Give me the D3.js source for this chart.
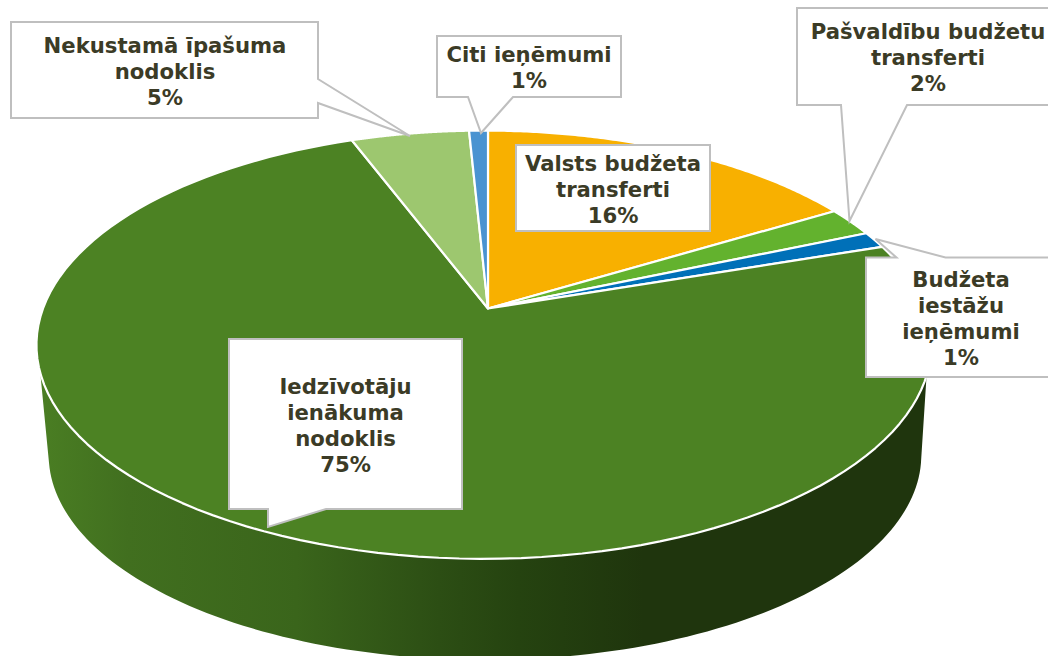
<!DOCTYPE html>
<html><head><meta charset="utf-8">
<script src="https://cdn.jsdelivr.net/npm/d3@7"></script>
<style>html,body{margin:0;padding:0;background:#fff;overflow:hidden}svg{display:block}</style>
</head><body><svg id="c" width="1048" height="656"></svg>
<script>
// Data
const categories = ["Valsts budžeta transferti","Pašvaldību budžetu transferti","Budžeta iestāžu ieņēmumi","Iedzīvotāju ienākuma nodoklis","Nekustamā īpašuma nodoklis","Citi ieņēmumi"];
const values = [16.45, 2.2, 1.25, 74.3, 5.0, 0.8];
const percentLabels = ["16%","2%","1%","75%","5%","1%"];
const labelLines = [["Valsts budžeta","transferti"],["Pašvaldību budžetu","transferti"],["Budžeta","iestāžu","ieņēmumi"],["Iedzīvotāju","ienākuma","nodoklis"],["Nekustamā īpašuma","nodoklis"],["Citi ieņēmumi"]];

// Styles and layout
const colors = ["#F8B000","#63B22E","#0070B8","#4C8223","#9DC76F","#4A93D1"];
const wallStops = [[0,"#4A7E23"],[0.1,"#416F1F"],[0.29,"#3A651B"],[0.45,"#2C4E14"],[0.54,"#254310"],[0.68,"#1F350D"],[1,"#1F350D"]];
const callouts = [
 {box:[516,145,710,231], ptr:null, cx:613, base:171},
 {box:[797,8,1060,105], ptr:[[907,105],[849.5,221],[841,105]], cx:928, base:38.5},
 {box:[866,257.5,1060,377], ptr:[[945.5,257.5],[875.5,239],[896.5,257.5]], cx:961, base:286.5},
 {box:[229,339,462,509], ptr:[[326,509],[268,527],[268,509]], cx:345.5, base:394},
 {box:[11,22,318,118], ptr:[[318,103],[410,136],[318,79]], side:"right", cx:165, base:52.5},
 {box:[437,36,621,97], ptr:[[513,97],[481,133],[468,97]], cx:529, base:62}
];
const lineStep = 26;

// Perspective view of the pie disc: top plane and bottom plane
const k = 0.169;
const topPlane = {x:488, y:308.5, a:208, b:441, m:0.009};
const botPlane = {x:485, y:420.5, a:199, b:430, m:0};
const project = (p, ang) => {
  const x = Math.sin(ang), y = -Math.cos(ang), d = 1 - k*y + p.m*x;
  return [p.x + p.b*x/d, p.y + p.a*y/d];
};
const rad = d3.scaleLinear().domain([0,180]).range([0,Math.PI]);
const arcPts = (p,a0,a1) => d3.range(0,121).map(i => project(p, a0+(a1-a0)*i/120));

const svg = d3.select("#c");
const line = d3.line();
const grad = svg.append("defs").append("linearGradient").attr("id","wall")
  .attr("gradientUnits","userSpaceOnUse").attr("x1",39).attr("x2",928).attr("y1",0).attr("y2",0);
grad.selectAll("stop").data(wallStops).join("stop").attr("offset",d=>d[0]).attr("stop-color",d=>d[1]);

// Side wall of the main slice
const wallPts = arcPts(topPlane, rad(108), rad(253)).concat(arcPts(botPlane, rad(258), rad(102)));
svg.append("path").attr("d", line(wallPts)+"Z").attr("fill","url(#wall)");

// Top faces
const pie = d3.pie().sort(null).value(d=>d);
const arcs = pie(values);
svg.append("g").selectAll("path").data(arcs).join("path")
  .attr("d", d => line([[topPlane.x,topPlane.y]].concat(arcPts(topPlane,d.startAngle,d.endAngle)))+"Z")
  .attr("fill",(d,i)=>colors[i]).attr("stroke","#fff").attr("stroke-width",2.2).attr("stroke-linejoin","round");

// Callouts
const boxPath = c => {
  const [x0,y0,x1,y1] = c.box;
  if(!c.ptr) return line([[x0,y0],[x1,y0],[x1,y1],[x0,y1]])+"Z";
  if(c.side==="right") return line([[x0,y0],[x1,y0],c.ptr[2],c.ptr[1],c.ptr[0],[x1,y1],[x0,y1]])+"Z";
  if(c.ptr[0][1]===y0) return line([[x0,y0],c.ptr[2],c.ptr[1],c.ptr[0],[x1,y0],[x1,y1],[x0,y1]])+"Z";
  return line([[x0,y0],[x1,y0],[x1,y1],c.ptr[0],c.ptr[1],c.ptr[2],[x0,y1]])+"Z";
};
svg.append("g").selectAll("path").data(callouts).join("path")
  .attr("d",boxPath).attr("fill","#fff").attr("stroke","#BFBFBF").attr("stroke-width",2);

const g = svg.append("g").attr("font-family","'DejaVu Sans',Verdana,sans-serif").attr("font-weight","bold")
  .attr("font-size",21.2).attr("fill","#3B3B26").attr("text-anchor","middle");
categories.forEach((cat,i)=>{
  const ls = labelLines[i].concat(percentLabels[i]);
  g.append("g").selectAll("text").data(ls).join("text")
    .attr("x",callouts[i].cx).attr("y",(d,j)=>callouts[i].base+j*lineStep).text(d=>d);
});
</script></body></html>
